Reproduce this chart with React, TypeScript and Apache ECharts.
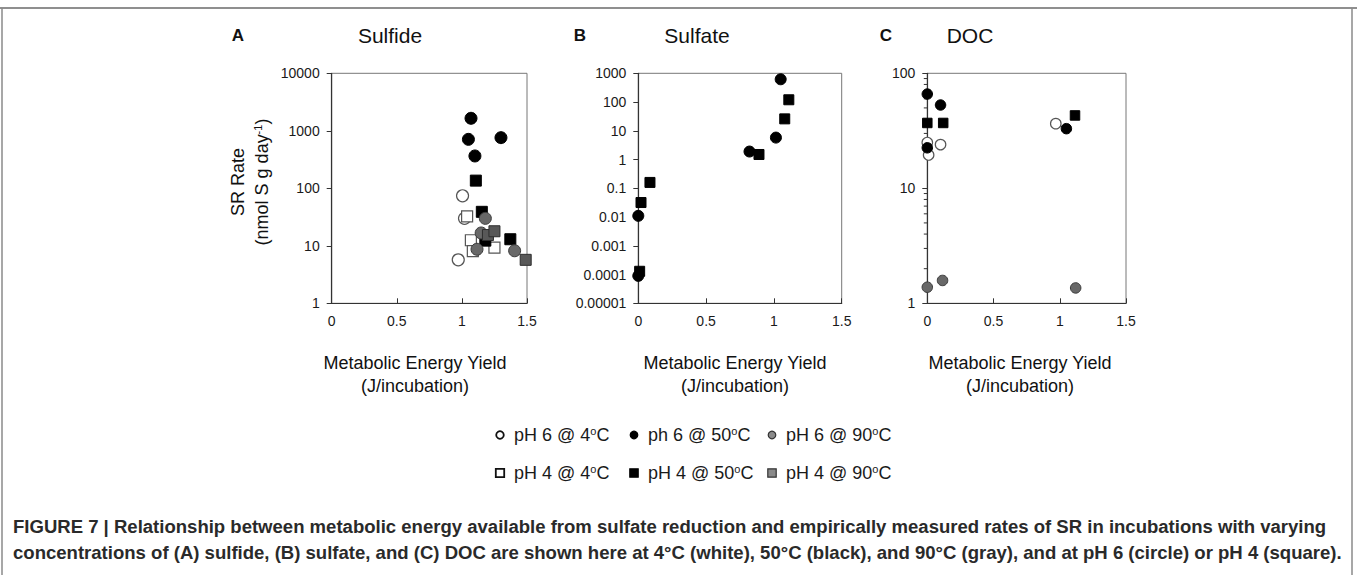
import React, { useEffect, useRef } from "react";
import * as echarts from "echarts";

// Tick labels
const xTickLabels = ["0", "0.5", "1", "1.5"];
const sulfideYTicks = ["1", "10", "100", "1000", "10000"];
const sulfateYTicks = ["0.00001", "0.0001", "0.001", "0.01", "0.1", "1", "10", "100", "1000"];
const docYTicks = ["1", "10", "100"];
const docMinorTicks = [2, 3, 4, 5, 6, 7, 8, 9, 20, 30, 40, 50, 60, 70, 80, 90];

// Panel titles
const panelLetters = ["A", "B", "C"];
const panelTitles = ["Sulfide", "Sulfate", "DOC"];
const xAxisTitle = ["Metabolic Energy Yield", "(J/incubation)"];

// Legend labels (temperature unit drawn as superscript "o" + "C")
const legendPrefixes = ["pH 6 @ 4", "ph 6 @ 50", "pH 6 @ 90", "pH 4 @ 4", "pH 4 @ 50", "pH 4 @ 90"];
const seriesNames = ["pH 6 @ 4°C", "ph 6 @ 50°C", "pH 6 @ 90°C", "pH 4 @ 4°C", "pH 4 @ 50°C", "pH 4 @ 90°C"];

// Panel A: sulfide — [energy yield (J/incubation), SR rate]
const sulfidePh6At4 = [[0.972, 5.7], [1.005, 74], [1.02, 30]];
const sulfidePh6At50 = [[1.05, 710], [1.07, 1650], [1.1, 365], [1.3, 760]];
const sulfidePh6At90 = [[1.116, 8.7], [1.148, 16.7], [1.18, 30], [1.405, 8.2]];
const sulfidePh4At4 = [[1.04, 32.6], [1.069, 12.5], [1.084, 8.1], [1.25, 9.3]];
const sulfidePh4At50 = [[1.107, 136], [1.153, 39], [1.18, 12.3], [1.372, 13]];
const sulfidePh4At90 = [[1.2, 15.4], [1.25, 17.9], [1.49, 5.7]];

// Panel B: sulfate
const sulfatePh6At50 = [[0, 0.00009], [0, 0.011], [0.82, 1.9], [1.015, 5.8], [1.05, 620]];
const sulfatePh4At50 = [[0.01, 0.00013], [0.02, 0.032], [0.086, 0.16], [0.89, 1.5], [1.08, 26], [1.11, 120]];

// Panel C: DOC
const docPh6At4 = [[0, 25], [0.01, 19.5], [0.1, 24], [0.97, 36.5]];
const docPh6At50 = [[0, 66], [0, 22.5], [0.1, 53], [1.05, 33]];
const docPh6At90 = [[0, 1.38], [0.115, 1.58], [1.12, 1.36]];
const docPh4At50 = [[0, 37], [0.12, 37], [1.115, 43]];

const FONT = '"Liberation Sans", Arial, Helvetica, sans-serif';

// Marker look for each of the six groups (index matches seriesNames)
const groupStyles = [
  { symbol: "circle", color: "#ffffff", border: "#555555", borderWidth: 1.2 },
  { symbol: "circle", color: "#000000", border: "#000000", borderWidth: 1 },
  { symbol: "circle", color: "#686868", border: "#3a3a3a", borderWidth: 1 },
  { symbol: "rect", color: "#ffffff", border: "#555555", borderWidth: 1.2 },
  { symbol: "rect", color: "#000000", border: "#000000", borderWidth: 1 },
  { symbol: "rect", color: "#585858", border: "#2e2e2e", borderWidth: 1 },
];

const grids = [
  { left: 331.7, top: 73.3, width: 195.3, height: 230 },
  { left: 638.3, top: 73.3, width: 203.4, height: 230 },
  { left: 927.3, top: 73.3, width: 198.7, height: 230 },
];

function scatter(group: number, panel: number, data: number[][], size: number) {
  const s = groupStyles[group];
  return {
    type: "scatter",
    name: seriesNames[group],
    xAxisIndex: panel,
    yAxisIndex: panel,
    data,
    symbol: s.symbol,
    symbolSize: s.symbol === "rect" ? size - 1 : size,
    clip: false,
    z: 3 + (group % 3),
    itemStyle: { color: s.color, borderColor: s.border, borderWidth: s.borderWidth, opacity: 1 },
    emphasis: { disabled: true },
  };
}

function measureScale(text: string, font: string, target: number) {
  const ctx = document.createElement("canvas").getContext("2d");
  if (!ctx) return 1;
  ctx.font = font;
  const w = ctx.measureText(text).width;
  return w > 0 ? target / w : 1;
}

const captionLines = [
  "FIGURE 7 | Relationship between metabolic energy available from sulfate reduction and empirically measured rates of SR in incubations with varying",
  "concentrations of (A) sulfide, (B) sulfate, and (C) DOC are shown here at 4°C (white), 50°C (black), and 90°C (gray), and at pH 6 (circle) or pH 4 (square).",
];

export default function App() {
  const ref = useRef<HTMLDivElement>(null);

  useEffect(() => {
    if (!ref.current) return;
    const chart = echarts.init(ref.current, undefined, { renderer: "svg" });

    const yLabels = [sulfideYTicks, sulfateYTicks, docYTicks];
    const yMin = [1, 0.00001, 1];
    const yMax = [10000, 1000, 100];

    const xAxis = grids.map((_, i) => ({
      type: "value",
      gridIndex: i,
      min: 0,
      max: 1.5,
      interval: 0.5,
      axisLine: { show: true, onZero: false, lineStyle: { color: "#333", width: 1.2 } },
      axisTick: { show: true, inside: true, length: 5, lineStyle: { color: "#333" } },
      axisLabel: {
        fontSize: 14,
        fontFamily: FONT,
        color: "#1a1a1a",
        margin: 11,
        formatter: (v: number) => xTickLabels[Math.round(v / 0.5)] ?? "",
      },
      splitLine: { show: false },
    }));

    const yAxis = grids.map((_, i) => ({
      type: "log",
      logBase: 10,
      gridIndex: i,
      min: yMin[i],
      max: yMax[i],
      interval: 1,
      splitNumber: yLabels[i].length - 1,
      axisLine: { show: true, onZero: false, lineStyle: { color: "#333", width: 1.2 } },
      axisTick: { show: true, inside: false, length: 5, lineStyle: { color: "#333" } },
      axisLabel: {
        fontSize: 14,
        fontFamily: FONT,
        color: "#1a1a1a",
        margin: 12,
        formatter: (v: number) => {
          const idx = Math.round(Math.log10(v) - Math.log10(yMin[i]));
          return yLabels[i][idx] ?? "";
        },
      },
      splitLine: { show: false },
      minorTick: { show: false },
    }));

    const series: any[] = [
      scatter(0, 0, sulfidePh6At4, 12),
      scatter(3, 0, sulfidePh4At4, 12),
      scatter(1, 0, sulfidePh6At50, 12),
      scatter(4, 0, sulfidePh4At50, 12),
      scatter(2, 0, sulfidePh6At90, 12),
      scatter(5, 0, sulfidePh4At90, 12),
      scatter(1, 1, sulfatePh6At50, 11),
      scatter(4, 1, sulfatePh4At50, 11),
      scatter(0, 2, docPh6At4, 10.5),
      scatter(1, 2, docPh6At50, 10.5),
      scatter(4, 2, docPh4At50, 10.5),
      scatter(2, 2, docPh6At90, 10.5),
      {
        type: "custom",
        xAxisIndex: 2,
        yAxisIndex: 2,
        silent: true,
        clip: false,
        z: 2,
        data: docMinorTicks.map((v) => [0, v]),
        renderItem: (_p: any, api: any) => {
          const pt = api.coord([0, api.value(1)]);
          return {
            type: "line",
            shape: { x1: pt[0] - 3.5, y1: pt[1], x2: pt[0], y2: pt[1] },
            style: { stroke: "#333", lineWidth: 1 },
          };
        },
      },
    ];

    const graphic: any[] = [];

    // figure frame
    graphic.push(
      { type: "line", shape: { x1: 0, y1: 8, x2: 1357, y2: 8 }, style: { stroke: "#6a6a6a", lineWidth: 1.5 } },
      { type: "line", shape: { x1: 2, y1: 8, x2: 2, y2: 575 }, style: { stroke: "#8a8a8a", lineWidth: 1.5 } },
      { type: "line", shape: { x1: 1352, y1: 8, x2: 1352, y2: 575 }, style: { stroke: "#8a8a8a", lineWidth: 1.5 } }
    );

    const letterX = [238, 580, 886];
    const titleX = [390, 697, 970];
    const xNameX = [415, 735, 1020];
    panelLetters.forEach((l, i) => {
      graphic.push({
        type: "text",
        x: letterX[i],
        y: 35.5,
        style: { text: l, font: `bold 17px ${FONT}`, fill: "#111", align: "center", verticalAlign: "middle", textAlign: "center", textVerticalAlign: "middle" },
      });
      graphic.push({
        type: "text",
        x: titleX[i],
        y: 35,
        style: { text: panelTitles[i], font: `21px ${FONT}`, fill: "#111", align: "center", verticalAlign: "middle", textAlign: "center", textVerticalAlign: "middle" },
      });
      xAxisTitle.forEach((t, k) => {
        graphic.push({
          type: "text",
          x: xNameX[i],
          y: 363 + k * 23,
          style: { text: t, font: `18px ${FONT}`, fill: "#111", align: "center", verticalAlign: "middle", textAlign: "center", textVerticalAlign: "middle" },
        });
      });
    });

    // y-axis title of panel A
    graphic.push({
      type: "text",
      x: 238,
      y: 182,
      rotation: Math.PI / 2,
      style: { text: "SR Rate", font: `18px ${FONT}`, fill: "#111", align: "center", verticalAlign: "middle", textAlign: "center", textVerticalAlign: "middle" },
    });
    graphic.push({
      type: "text",
      x: 262,
      y: 182,
      rotation: Math.PI / 2,
      style: {
        text: "{t|(nmol S g day}{s|-1}{t|)}",
        align: "center",
        verticalAlign: "middle",
        textAlign: "center",
        textVerticalAlign: "middle",
        rich: {
          t: { fontFamily: FONT, fontSize: 18, fill: "#111", lineHeight: 20 },
          s: { fontFamily: FONT, fontSize: 11, fill: "#111", verticalAlign: "top", lineHeight: 12 },
        },
      },
    });

    // legend
    const colX = [500, 634, 772];
    const rowY = [435, 473];
    legendPrefixes.forEach((p, idx) => {
      const cx = colX[idx % 3];
      const cy = rowY[Math.floor(idx / 3)];
      const s = groupStyles[idx];
      const fill = idx % 3 === 2 ? "#8a8a8a" : s.color;
      const stroke = idx % 3 === 0 ? "#111" : idx % 3 === 2 ? "#333" : "#000";
      const lw = idx % 3 === 0 ? 1.8 : 1.2;
      if (s.symbol === "circle") {
        graphic.push({ type: "circle", shape: { cx, cy, r: 3.8 }, style: { fill, stroke, lineWidth: lw } });
      } else {
        graphic.push({ type: "rect", shape: { x: cx - 4.2, y: cy - 4.2, width: 8.4, height: 8.4 }, style: { fill, stroke, lineWidth: lw } });
      }
      graphic.push({
        type: "text",
        x: cx + 14,
        y: cy,
        style: {
          text: `{t|${p}}{s|o}{t|C}`,
          align: "left",
          verticalAlign: "middle",
          textAlign: "left",
          textVerticalAlign: "middle",
          rich: {
            t: { fontFamily: FONT, fontSize: 18, fill: "#1a1a1a", lineHeight: 20 },
            s: { fontFamily: FONT, fontSize: 11, fill: "#1a1a1a", verticalAlign: "top", lineHeight: 12 },
          },
        },
      });
    });

    // caption
    const capFont = `bold 18px ${FONT}`;
    const capTargets = [1314, 1330];
    captionLines.forEach((line, i) => {
      graphic.push({
        type: "text",
        x: 13,
        y: 527 + i * 25.5,
        scaleX: measureScale(line, capFont, capTargets[i]),
        style: { text: line, font: capFont, fill: "#2a2a2a", align: "left", verticalAlign: "middle", textAlign: "left", textVerticalAlign: "middle" },
      });
    });

    chart.setOption({
      animation: false,
      backgroundColor: "#ffffff",
      grid: grids.map((g) => ({ ...g, show: true, borderColor: "#777", borderWidth: 1, backgroundColor: "transparent" })),
      xAxis,
      yAxis,
      series,
      graphic,
    });

    return () => chart.dispose();
  }, []);

  return (
    <div
      ref={ref}
      style={{ position: "absolute", left: 0, top: 0, width: 1357, height: 575, background: "#fff" }}
    />
  );
}
